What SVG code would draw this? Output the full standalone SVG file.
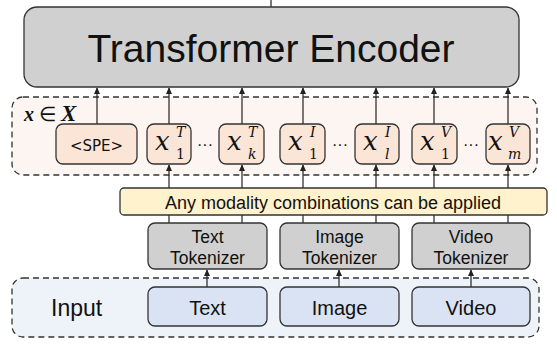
<svg xmlns="http://www.w3.org/2000/svg" width="557" height="347" viewBox="0 0 557 347">
<defs>
<marker id="ah" viewBox="0 0 8 8" refX="7" refY="4" markerWidth="7" markerHeight="7" markerUnits="userSpaceOnUse" orient="auto">
<path d="M0,0.5 L8,4 L0,7.5 Z" fill="#222"/>
</marker>
<style>
.sans{font-family:"Liberation Sans",Arial,sans-serif;fill:#111}
.mx{font-family:"DejaVu Serif","Liberation Serif",serif;font-style:italic;font-size:26px;fill:#111}
.ms{font-family:"DejaVu Serif","Liberation Serif",serif;font-style:italic;font-size:14px;fill:#111}
.mn{font-family:"DejaVu Serif","Liberation Serif",serif;font-style:normal;font-size:14px;fill:#111}
.tok{fill:#fbe5d6;stroke:#333;stroke-width:1.3}
.tkz{fill:#d0d0d0;stroke:#333;stroke-width:1.3}
.inp{fill:#dae3f3;stroke:#333;stroke-width:1.3}
.ln{stroke:#222;stroke-width:1.2;fill:none}
.dash{stroke:#333;stroke-width:1.3;stroke-dasharray:6 4}
</style>
</defs>
<rect width="557" height="347" fill="#fff"/>

<g id="token-group">
<rect x="12" y="97" width="525" height="78" rx="11" fill="#fdf5f2" class="dash"/>
<text x="24" y="121" font-family="'Liberation Serif',serif" font-style="italic" font-weight="bold" font-size="20" fill="#111">x <tspan font-style="normal" font-weight="normal">∈</tspan> <tspan font-size="23">X</tspan></text>
</g>
<g id="input-group">
<rect x="12" y="278" width="527" height="59" rx="11" fill="#eef2f9" class="dash"/>
<text x="51" y="316" class="sans" font-size="23">Input</text>
</g>

<g id="connectors">
<line x1="271" y1="0" x2="271" y2="7" class="ln"/>
<line x1="97" y1="124" x2="97" y2="88" class="ln" marker-end="url(#ah)"/>
<line x1="169" y1="124" x2="169" y2="88" class="ln" marker-end="url(#ah)"/>
<line x1="242" y1="124" x2="242" y2="88" class="ln" marker-end="url(#ah)"/>
<line x1="303" y1="124" x2="303" y2="88" class="ln" marker-end="url(#ah)"/>
<line x1="376" y1="124" x2="376" y2="88" class="ln" marker-end="url(#ah)"/>
<line x1="434" y1="124" x2="434" y2="88" class="ln" marker-end="url(#ah)"/>
<line x1="508" y1="124" x2="508" y2="88" class="ln" marker-end="url(#ah)"/>
<line x1="169" y1="223" x2="169" y2="165" class="ln" marker-end="url(#ah)"/>
<line x1="242" y1="223" x2="242" y2="165" class="ln" marker-end="url(#ah)"/>
<line x1="303" y1="223" x2="303" y2="165" class="ln" marker-end="url(#ah)"/>
<line x1="376" y1="223" x2="376" y2="165" class="ln" marker-end="url(#ah)"/>
<line x1="434" y1="223" x2="434" y2="165" class="ln" marker-end="url(#ah)"/>
<line x1="508" y1="223" x2="508" y2="165" class="ln" marker-end="url(#ah)"/>
<line x1="207" y1="287" x2="207" y2="270" class="ln" marker-end="url(#ah)"/>
<line x1="339" y1="287" x2="339" y2="270" class="ln" marker-end="url(#ah)"/>
<line x1="471" y1="287" x2="471" y2="270" class="ln" marker-end="url(#ah)"/>
</g>

<g id="encoder">
<rect x="24" y="7" width="495" height="80" rx="13" fill="#d0d0d0" stroke="#333" stroke-width="1.3"/>
<text x="271" y="62" text-anchor="middle" class="sans" font-size="39">Transformer Encoder</text>
</g>

<g id="spe">
<rect x="56" y="124" width="81" height="40" rx="7" class="tok"/>
<text x="96.5" y="150.5" text-anchor="middle" font-family="'DejaVu Sans',sans-serif" font-size="15" fill="#111">&lt;SPE&gt;</text>
</g>
<g id="x1T">
<rect x="147" y="124" width="44" height="40" rx="7" class="tok"/>
<text x="155" y="150" class="mx">x</text>
<text x="176" y="137" class="ms">T</text>
<text x="176" y="159" class="mn">1</text>
</g>
<g id="xkT">
<rect x="219" y="124" width="45" height="40" rx="7" class="tok"/>
<text x="227" y="150" class="mx">x</text>
<text x="248" y="137" class="ms">T</text>
<text x="248" y="159" class="ms">k</text>
</g>
<g id="x1I">
<rect x="280" y="124" width="45" height="40" rx="7" class="tok"/>
<text x="288" y="150" class="mx">x</text>
<text x="310" y="137" class="ms">I</text>
<text x="309" y="159" class="mn">1</text>
</g>
<g id="xlI">
<rect x="355" y="124" width="44" height="40" rx="7" class="tok"/>
<text x="363" y="150" class="mx">x</text>
<text x="385" y="137" class="ms">I</text>
<text x="385" y="159" class="ms">l</text>
</g>
<g id="x1V">
<rect x="412" y="124" width="45" height="40" rx="7" class="tok"/>
<text x="420" y="150" class="mx">x</text>
<text x="441" y="137" class="ms">V</text>
<text x="441" y="159" class="mn">1</text>
</g>
<g id="xmV">
<rect x="486" y="124" width="44" height="40" rx="7" class="tok"/>
<text x="488" y="150" class="mx">x</text>
<text x="509" y="137" class="ms">V</text>
<text x="508" y="159" class="ms">m</text>
</g>
<g id="dots" class="sans" font-size="16" text-anchor="middle">
<text x="205" y="150">···</text>
<text x="340" y="150">···</text>
<text x="471" y="150">···</text>
</g>

<g id="modality-bar">
<rect x="120" y="188" width="427" height="27" rx="4" fill="#fff2cc" stroke="#333" stroke-width="1.3"/>
<text x="333" y="209" text-anchor="middle" class="sans" font-size="18">Any modality combinations can be applied</text>
</g>

<g id="text-tokenizer">
<rect x="148" y="223" width="119" height="46" rx="7" class="tkz"/>
<text x="207.5" y="243" text-anchor="middle" class="sans" font-size="17.5">Text</text>
<text x="207.5" y="264" text-anchor="middle" class="sans" font-size="17.5">Tokenizer</text>
</g>
<g id="image-tokenizer">
<rect x="280" y="223" width="119" height="46" rx="7" class="tkz"/>
<text x="339.5" y="243" text-anchor="middle" class="sans" font-size="17.5">Image</text>
<text x="339.5" y="264" text-anchor="middle" class="sans" font-size="17.5">Tokenizer</text>
</g>
<g id="video-tokenizer">
<rect x="412" y="223" width="118" height="46" rx="7" class="tkz"/>
<text x="471" y="243" text-anchor="middle" class="sans" font-size="17.5">Video</text>
<text x="471" y="264" text-anchor="middle" class="sans" font-size="17.5">Tokenizer</text>
</g>

<g id="text-input">
<rect x="148" y="287" width="119" height="39" rx="7" class="inp"/>
<text x="207.5" y="315" text-anchor="middle" class="sans" font-size="20">Text</text>
</g>
<g id="image-input">
<rect x="280" y="287" width="119" height="39" rx="7" class="inp"/>
<text x="339.5" y="315" text-anchor="middle" class="sans" font-size="20">Image</text>
</g>
<g id="video-input">
<rect x="412" y="287" width="118" height="39" rx="7" class="inp"/>
<text x="471" y="315" text-anchor="middle" class="sans" font-size="20">Video</text>
</g>
</svg>
